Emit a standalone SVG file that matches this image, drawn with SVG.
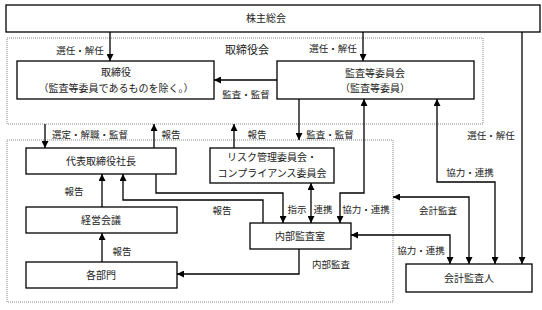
<svg xmlns="http://www.w3.org/2000/svg" width="542" height="310" viewBox="0 0 542 310">
<defs>
<marker id="ah" viewBox="0 0 8 8" refX="8" refY="4" markerWidth="7" markerHeight="7" markerUnits="userSpaceOnUse" orient="auto-start-reverse">
<path d="M0,0 L8,4 L0,8 z" fill="#000"/>
</marker>
<style>
.box{fill:#fff;stroke:#000;stroke-width:1.3}
.area{fill:none;stroke:#888;stroke-width:1;stroke-dasharray:1,1}
.t{font-family:"Noto Sans CJK JP","Liberation Sans",sans-serif;font-size:10px;fill:#222;text-anchor:middle}
.l{font-family:"Noto Sans CJK JP","Liberation Sans",sans-serif;font-size:9.5px;fill:#222;text-anchor:middle}
.c{fill:none;stroke:#000;stroke-width:1.3}
.a{marker-end:url(#ah)}
.d{marker-start:url(#ah);marker-end:url(#ah)}
</style>
</defs>
<rect width="542" height="310" fill="#fff"/>
<g id="area-board">
<rect class="area" x="7" y="38" width="476" height="86"/>
<text class="l" x="247" y="54" style="font-size:11px">取締役会</text>
</g>
<g id="area-exec">
<rect class="area" x="7" y="140" width="386" height="162"/>
</g>
<g id="shareholders">
<rect class="box" x="6" y="5" width="534" height="27"/>
<text class="t" x="266" y="22">株主総会</text>
</g>
<g id="directors">
<rect class="box" x="17" y="61" width="197" height="38"/>
<text class="t" x="116" y="76">取締役</text>
<text class="t" x="116" y="92">（監査等委員であるものを除く。）</text>
</g>
<g id="audit-committee">
<rect class="box" x="277" y="61" width="197" height="38"/>
<text class="t" x="375" y="77">監査等委員会</text>
<text class="t" x="375" y="92">（監査等委員）</text>
</g>
<g id="president">
<rect class="box" x="26" y="148" width="150" height="26"/>
<text class="t" x="101" y="165">代表取締役社長</text>
</g>
<g id="risk">
<rect class="box" x="210" y="148" width="124" height="35"/>
<text class="t" x="272" y="161">リスク管理委員会・</text>
<text class="t" x="272" y="177">コンプライアンス委員会</text>
</g>
<g id="management">
<rect class="box" x="26" y="207" width="151" height="26"/>
<text class="t" x="101" y="224">経営会議</text>
</g>
<g id="departments">
<rect class="box" x="26" y="262" width="151" height="26"/>
<text class="t" x="101" y="279">各部門</text>
</g>
<g id="internal-audit">
<rect class="box" x="250" y="223" width="101" height="26"/>
<text class="t" x="300" y="240">内部監査室</text>
</g>
<g id="accounting-auditor">
<rect class="box" x="406" y="264" width="126" height="28"/>
<text class="t" x="469" y="282">会計監査人</text>
</g>
<g id="connectors">
<path class="c a" d="M110,32 V61"/>
<path class="c a" d="M363,32 V61"/>
<path class="c a" d="M522,32 V264"/>
<path class="c a" d="M277,80 H214"/>
<path class="c a" d="M45,124 V148"/>
<path class="c a" d="M154,148 V124"/>
<path class="c a" d="M234,148 V124"/>
<path class="c a" d="M299,99 V140"/>
<path class="c d" d="M364,99 V193 H340 V223"/>
<path class="c d" d="M437,99 V182 H495 V264"/>
<path class="c d" d="M393,197 H469 V264"/>
<path class="c d" d="M351,235 H450 V264"/>
<path class="c a" d="M299,249 V274 H177"/>
<path class="c a" d="M102,262 V233"/>
<path class="c a" d="M102,207 V174"/>
<path class="c a" d="M156,174 V193 H283 V223"/>
<path class="c a" d="M263,223 V200 H123 V174"/>
<path class="c d" d="M311,183 V223"/>
<text class="l" x="80" y="53.5">選任・解任</text>
<text class="l" x="333" y="51.5">選任・解任</text>
<text class="l" x="246" y="97.5">監査・監督</text>
<text class="l" x="90" y="137.5">選定・解職・監督</text>
<text class="l" x="171" y="137.5">報告</text>
<text class="l" x="257" y="137.5">報告</text>
<text class="l" x="330" y="137.5">監査・監督</text>
<text class="l" x="491" y="138.5">選任・解任</text>
<text class="l" x="470" y="175.5">協力・連携</text>
<text class="l" x="74" y="194.5">報告</text>
<text class="l" x="438" y="213.5">会計監査</text>
<text class="l" x="222" y="214">報告</text>
<text class="l" x="297" y="212.5">指示</text>
<text class="l" x="323" y="212.5">連携</text>
<text class="l" x="366" y="212.5">協力・連携</text>
<text class="l" x="421" y="253.5">協力・連携</text>
<text class="l" x="122" y="254.5">報告</text>
<text class="l" x="331" y="267.5">内部監査</text>
</g>
</svg>
